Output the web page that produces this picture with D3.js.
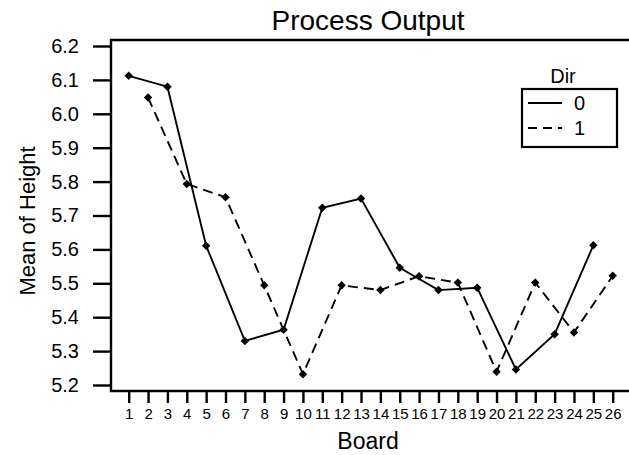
<!DOCTYPE html>
<html><head><meta charset="utf-8">
<script src="https://cdn.jsdelivr.net/npm/d3@7"></script>
<style>body{margin:0;background:#fff}svg{display:block}text{font-family:"Liberation Sans",Arial,sans-serif;fill:#000}</style>
</head><body>
<script>
const boards0 = [1,3,5,7,9,11,13,15,17,19,21,23,25];
const values0 = [6.112,6.08,5.611,5.33,5.363,5.723,5.75,5.546,5.48,5.487,5.246,5.35,5.612];
const boards1 = [2,4,6,8,10,12,14,16,18,20,22,24,26];
const values1 = [6.048,5.793,5.754,5.494,5.232,5.494,5.48,5.521,5.502,5.239,5.502,5.355,5.522];
const xTicks = d3.range(1,27);
const yTicks = [5.2,5.3,5.4,5.5,5.6,5.7,5.8,5.9,6.0,6.1,6.2];
const legendLabels = ["0","1"];

const W=629,H=455;
const svg=d3.select("body").append("svg").attr("width",W).attr("height",H);
const L=111,T=40,B=391,R=629;
const x=d3.scaleLinear().domain([1,26]).range([128.7,612.7]);
const y=d3.scaleLinear().domain([5.2,6.2]).range([385,46]);

// frame
svg.append("path").attr("d",`M${R},${T}H${L}V${B}H${R}`).attr("fill","none").attr("stroke","#000").attr("stroke-width",2.4);

// y axis
const ya=svg.append("g").attr("transform",`translate(${L},0)`)
  .call(d3.axisLeft(y).tickValues(yTicks).tickFormat(d3.format(".1f")).tickSize(18).tickPadding(14));
ya.select(".domain").remove();
ya.selectAll("line").attr("stroke-width",2.4);
ya.selectAll("text").style("font-size","20px").attr("fill","#000");

// x axis
const xa=svg.append("g").attr("transform",`translate(0,${B})`)
  .call(d3.axisBottom(x).tickValues(xTicks).tickFormat(d3.format("d")).tickSize(12).tickPadding(5));
xa.select(".domain").remove();
xa.selectAll("line").attr("stroke-width",2.4);
xa.selectAll("text").style("font-size","15px").attr("fill","#000");

// titles
svg.append("text").attr("x",368).attr("y",30).attr("text-anchor","middle").style("font-size","28px").text("Process Output");
svg.append("text").attr("x",368).attr("y",449).attr("text-anchor","middle").style("font-size","23px").text("Board");
svg.append("text").attr("transform","translate(35,221) rotate(-90)").attr("text-anchor","middle").style("font-size","22px").text("Mean of Height");

const line=d3.line().x(d=>x(d[0])).y(d=>y(d[1]));
const s0=boards0.map((b,i)=>[b,values0[i]]);
const s1=boards1.map((b,i)=>[b,values1[i]]);
svg.append("path").datum(s0).attr("d",line).attr("fill","none").attr("stroke","#000").attr("stroke-width",1.9);
svg.append("path").datum(s1).attr("d",line).attr("fill","none").attr("stroke","#000").attr("stroke-width",1.9).attr("stroke-dasharray","10,6");
const sym=d3.symbol().type(d3.symbolSquare).size(36);
[s0,s1].forEach(s=>{
  svg.append("g").selectAll("path").data(s).join("path")
    .attr("transform",d=>`translate(${x(d[0])},${y(d[1])}) rotate(45)`).attr("d",sym).attr("fill","#000");
});

// legend
svg.append("text").attr("x",563).attr("y",83).attr("text-anchor","middle").style("font-size","20px").text("Dir");
svg.append("rect").attr("x",522).attr("y",89).attr("width",95).attr("height",58).attr("fill","none").attr("stroke","#000").attr("stroke-width",2.2);
const ly=[103,128];
legendLabels.forEach((lab,i)=>{
  svg.append("line").attr("x1",528).attr("x2",562).attr("y1",ly[i]).attr("y2",ly[i]).attr("stroke","#000").attr("stroke-width",2)
    .attr("stroke-dasharray",i===1?"9,6":null);
  svg.append("text").attr("x",574).attr("y",ly[i]+7).style("font-size","20px").text(lab);
});
</script>
</body></html>
